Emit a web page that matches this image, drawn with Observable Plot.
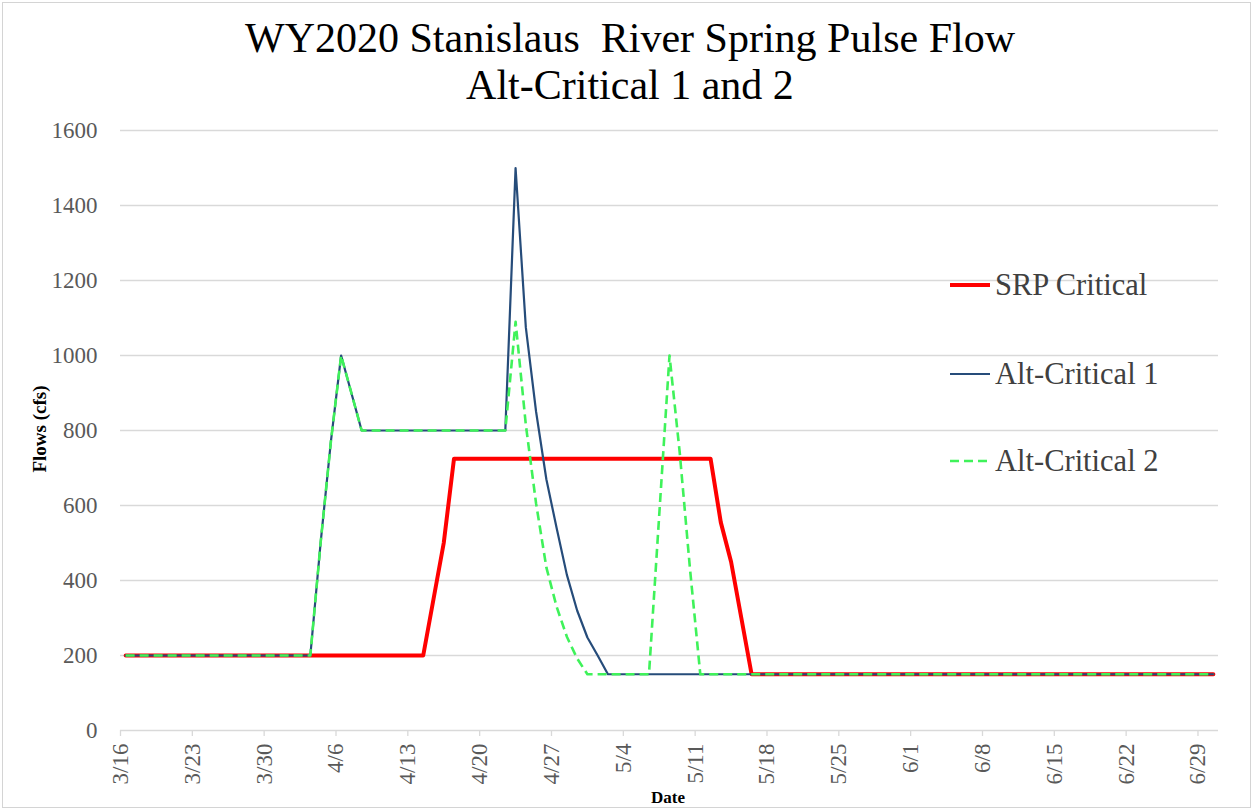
<!DOCTYPE html>
<html>
<head>
<meta charset="utf-8">
<script src="https://cdn.jsdelivr.net/npm/d3@7"></script>
<script src="https://cdn.jsdelivr.net/npm/@observablehq/plot@0.6"></script>
<style>
  html, body { margin: 0; padding: 0; background: #fff; }
  #wrap { position: relative; width: 1254px; height: 810px; overflow: hidden; font-family: "Liberation Serif", Tinos, "Times New Roman", Times, "Nimbus Roman", "DejaVu Serif", serif; }
  #frame { position: absolute; left: 2px; top: 2px; width: 1249px; height: 806px; border: 1px solid #d4d4d4; box-sizing: border-box; }
  #title { position: absolute; left: 0; top: 15px; width: 1260px; text-align: center; font-size: 42px; line-height: 47px; color: #000; white-space: pre; }
  #chart { position: absolute; left: 0; top: 115px; }
  #ylabel { position: absolute; left: 40px; top: 429px; transform: translate(-50%, -50%) rotate(-90deg); font-weight: bold; font-size: 19px; color: #000; white-space: nowrap; }
  #xlabel { position: absolute; left: 668px; top: 788px; transform: translateX(-50%); font-weight: bold; font-size: 17px; color: #000; }
  #legend { position: absolute; left: 0; top: 0; }
</style>
</head>
<body>
<div id="wrap">
  <div id="frame"></div>
  <div id="title"></div>
  <div id="chart"></div>
  <div id="ylabel"></div>
  <div id="xlabel"></div>
  <svg id="legend" width="1254" height="810"></svg>
</div>
<script>
// ---- Data ----
const titleLines = ["WY2020 Stanislaus  River Spring Pulse Flow", "Alt-Critical 1 and 2"];
const yAxisTitle = "Flows (cfs)";
const xAxisTitle = "Date";
const seriesNames = ["SRP Critical", "Alt-Critical 1", "Alt-Critical 2"];
const seriesColors = ["#ff0000", "#264c7a", "#3ff25a"];
const startDate = "2020-03-16"; // first daily value
const endDate = "2020-07-01";   // end of x range
const yTicks = [0, 200, 400, 600, 800, 1000, 1200, 1400, 1600];
const xTickLabels = ["3/16","3/23","3/30","4/6","4/13","4/20","4/27","5/4","5/11","5/18","5/25","6/1","6/8","6/15","6/22","6/29"];

// daily flows (cfs), 3/16 .. 6/30
const srpCritical = [
  200,200,200,200,200,200,200,200,200,200, // 3/16-3/25
  200,200,200,200,200,200,200,200,200,200, // 3/26-4/4
  200,200,200,200,200,200,200,200,200,200, // 4/5-4/14
  350,500,725,725,725,725,725,725,725,725, // 4/15-4/24
  725,725,725,725,725,725,725,725,725,725, // 4/25-5/4
  725,725,725,725,725,725,725,725,555,450, // 5/5-5/14
  300,150,150,150,150,150,150,150,150,150, // 5/15-5/24
  150,150,150,150,150,150,150,150,150,150, // 5/25-6/3
  150,150,150,150,150,150,150,150,150,150, // 6/4-6/13
  150,150,150,150,150,150,150,150,150,150, // 6/14-6/23
  150,150,150,150,150,150,150              // 6/24-6/30
];
const altCritical1 = [
  200,200,200,200,200,200,200,200,200,200,
  200,200,200,200,200,200,200,200,200,500,
  770,1000,900,800,800,800,800,800,800,800,
  800,800,800,800,800,800,800,800,1500,1075,
  850,670,540,415,320,248,200,150,150,150,
  150,150,150,150,150,150,150,150,150,150,
  150,150,150,150,150,150,150,150,150,150,
  150,150,150,150,150,150,150,150,150,150,
  150,150,150,150,150,150,150,150,150,150,
  150,150,150,150,150,150,150,150,150,150,
  150,150,150,150,150,150,150
];
const altCritical2 = [
  200,200,200,200,200,200,200,200,200,200,
  200,200,200,200,200,200,200,200,200,500,
  770,1000,900,800,800,800,800,800,800,800,
  800,800,800,800,800,800,800,800,1090,815,
  605,435,330,250,192,150,150,150,150,150,
  150,150,575,1000,740,430,150,150,150,150,
  150,150,150,150,150,150,150,150,150,150,
  150,150,150,150,150,150,150,150,150,150,
  150,150,150,150,150,150,150,150,150,150,
  150,150,150,150,150,150,150,150,150,150,
  150,150,150,150,150,150,150
];
const seriesValues = [srpCritical, altCritical1, altCritical2];

// ---- Build tables ----
const start = new Date(startDate + "T00:00:00Z");
const end = new Date(endDate + "T00:00:00Z");
const dayMs = 86400000;
function rowsFor(values, name) {
  // each daily value is centred within its day, as in the source's date axis
  return values.map((v, i) => ({ date: new Date(start.getTime() + (i + 0.5) * dayMs), value: v, series: name }));
}
const tables = seriesValues.map((vals, k) => rowsFor(vals, seriesNames[k]));
const tickDates = xTickLabels.map(s => {
  const [m, d] = s.split("/").map(Number);
  return new Date(Date.UTC(2020, m - 1, d));
});
const labelByTime = new Map(tickDates.map((d, i) => [+d, xTickLabels[i]]));

// ---- Text ----
document.getElementById("title").textContent = titleLines.join("\n");
document.getElementById("ylabel").textContent = yAxisTitle;
document.getElementById("xlabel").textContent = xAxisTitle;

// ---- Plot ----
const serifFont = "'Liberation Serif', Tinos, 'Times New Roman', Times, 'Nimbus Roman', 'DejaVu Serif', serif";
const lineStyles = [
  { strokeWidth: 4 },
  { strokeWidth: 2.2 },
  { strokeWidth: 2.6, strokeDasharray: "9,5", strokeLinecap: "butt" }
];
const chart = Plot.plot({
  width: 1254,
  height: 695,
  marginTop: 15,
  marginBottom: 80,
  marginLeft: 120,
  marginRight: 36,
  style: { fontFamily: serifFont, fontSize: "23px", color: "#595959", background: "transparent", overflow: "visible" },
  x: { type: "utc", domain: [start, end] },
  y: { domain: [0, 1600] },
  marks: [
    Plot.gridY(yTicks, { stroke: "#d9d9d9", strokeOpacity: 1, strokeWidth: 1.3 }),
    Plot.axisY(yTicks, { tickSize: 0, tickPadding: 23, label: null, fill: "#595959", tickFormat: d => String(d) }),
    Plot.axisX(tickDates, { tickSize: 6, tickPadding: 7, tickRotate: -90, stroke: "#d9d9d9", strokeWidth: 1.3, fill: "#595959", label: null, tickFormat: d => labelByTime.get(+d) }),
    ...tables.map((rows, k) => Plot.line(rows, {
      x: "date", y: "value", stroke: seriesColors[k], strokeLinejoin: "round", ...lineStyles[k]
    }))
  ]
});
document.getElementById("chart").appendChild(chart);

// ---- Legend ----
const legendY = [285, 374, 461];
const lg = d3.select("#legend");
seriesNames.forEach((name, k) => {
  const g = lg.append("g").attr("transform", `translate(950,${legendY[k]})`);
  g.append("line").attr("x1", 0).attr("x2", 40).attr("y1", 0).attr("y2", 0)
    .attr("stroke", seriesColors[k])
    .attr("stroke-width", lineStyles[k].strokeWidth)
    .attr("stroke-dasharray", lineStyles[k].strokeDasharray || null);
  g.append("text").attr("x", 45).attr("y", 10)
    .style("font-family", serifFont)
    .attr("font-size", 30.5).attr("fill", "#404040").text(name);
});
</script>
</body>
</html>
